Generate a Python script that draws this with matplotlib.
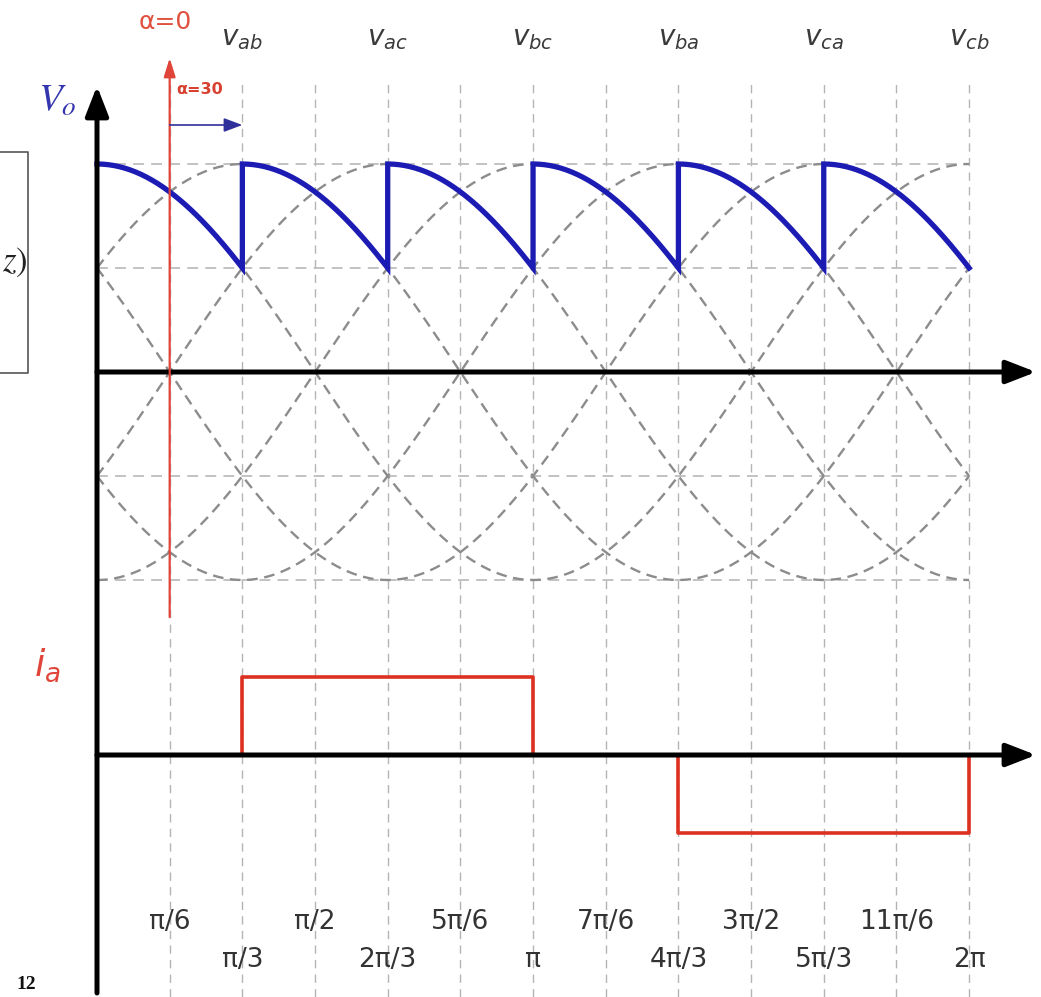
import numpy as np
import matplotlib
matplotlib.use("Agg")
import matplotlib.pyplot as plt

# ---- data ----
W, H = 1041, 997
# line voltages: name and angle of their peak (rad)
line_names = ["v_{ab}", "v_{ac}", "v_{bc}", "v_{ba}", "v_{ca}", "v_{cb}"]
line_peaks = [np.pi / 3, 2 * np.pi / 3, np.pi, 4 * np.pi / 3, 5 * np.pi / 3, 2 * np.pi]
# all six dashed sinusoids (peaks every pi/3, one at 0 too)
curve_peaks = [0, np.pi / 3, 2 * np.pi / 3, np.pi, 4 * np.pi / 3, 5 * np.pi / 3]
vpeak = 1.0
grid_levels = [1.0, 0.5, -0.5, -1.0]
# output voltage: each segment follows one line voltage from its peak
vo_start = [0, np.pi / 3, 2 * np.pi / 3, np.pi, 4 * np.pi / 3, 5 * np.pi / 3]
vo_seg_len = np.pi / 3
# phase current a (square blocks)
ia_angles = [np.pi / 3, np.pi / 3, np.pi, np.pi]
ia_pos = [0, 1, 1, 0]
ia_angles_neg = [4 * np.pi / 3, 4 * np.pi / 3, 2 * np.pi, 2 * np.pi]
ia_neg = [0, -1, -1, 0]
alpha = np.pi / 6
tick_pos = [k * np.pi / 6 for k in range(1, 13)]
tick_labels = ["π/6", "π/3", "π/2", "2π/3", "5π/6", "π",
               "7π/6", "4π/3", "3π/2", "5π/3", "11π/6", "2π"]

# pixel geometry of the drawing
X0, XS = 97, 138.8          # px of angle 0, px per rad
VY0, VS = 372, 208          # Vo zero line, px per unit
IY0, IS = 755, 78           # i_a zero line, px per unit


def fp(px, py):
    return px / W, 1 - py / H


fig = plt.figure(figsize=(W / 100, H / 100), dpi=100)
fig.patch.set_facecolor("white")
xlim = (-X0 / XS, (W - X0) / XS)

ax = fig.add_axes([0, 0, 1, 1])
ax.set_xlim(*xlim)
ax.set_ylim(-(H - VY0) / VS, VY0 / VS)
ax.axis("off")

ax2 = fig.add_axes([0, 0, 1, 1])
ax2.set_xlim(*xlim)
ax2.set_ylim(-(H - IY0) / IS, IY0 / IS)
ax2.axis("off")
ax2.patch.set_alpha(0)

# vertical grid
for t in tick_pos:
    ax.plot([t, t], [-(H - VY0) / VS, (VY0 - 83) / VS], color="#b4b4b4",
            lw=1.0, dashes=(6, 4.5), zorder=1)
# horizontal grid
for g in grid_levels:
    ax.plot([0, 2 * np.pi], [g, g], color="#bdbdbd", lw=1.3, dashes=(6, 4), zorder=1)

# dashed line voltages
th = np.linspace(0, 2 * np.pi, 600)
for p in curve_peaks:
    ax.plot(th, vpeak * np.cos(th - p), color="#8c8c8c", lw=1.7,
            dashes=(4.5, 2.8), zorder=2)

# output voltage
xs, ys = [], []
for s in vo_start:
    seg = np.linspace(s, s + vo_seg_len, 80)
    xs.extend(seg)
    ys.extend(vpeak * np.cos(seg - s))
ax.plot(xs, ys, color="#1c1cb4", lw=3.8, solid_joinstyle="miter", zorder=4)

# i_a
ax2.plot(ia_angles, ia_pos, color="#dd3020", lw=2.6, zorder=3)
ax2.plot(ia_angles_neg, ia_neg, color="#dd3020", lw=2.6, zorder=3)

# axes with arrows
arr = dict(arrowstyle="-|>,head_length=0.9,head_width=0.35", color="black",
           lw=3.6, shrinkA=0, shrinkB=0, mutation_scale=20)
ax.annotate("", xy=((1036 - X0) / XS, 0), xytext=(0, 0), arrowprops=arr, zorder=5)
ax2.annotate("", xy=((1036 - X0) / XS, 0), xytext=(0, 0), arrowprops=arr, zorder=5)
ax.annotate("", xy=(0, (VY0 - 86) / VS), xytext=(0, -(993 - VY0) / VS),
            arrowprops=arr, zorder=5)

# alpha = 0 marker
ax.annotate("", xy=(alpha, (VY0 - 58) / VS), xytext=(alpha, -(617 - VY0) / VS),
            arrowprops=dict(arrowstyle="-|>,head_length=0.8,head_width=0.25",
                            color="#e0453a", lw=1.6, shrinkA=0, shrinkB=0,
                            mutation_scale=14), zorder=6)
ax.annotate("", xy=(alpha + np.pi / 6, (VY0 - 125) / VS),
            xytext=(alpha, (VY0 - 125) / VS),
            arrowprops=dict(arrowstyle="-|>,head_length=0.8,head_width=0.3",
                            color="#30309a", lw=1.2, shrinkA=0, shrinkB=0,
                            mutation_scale=14), zorder=6)
fig.text(*fp(165, 22), "α=0", color="#e0503f", fontsize=18, ha="center", va="center")
fig.text(*fp(200, 89), "α=30", color="#d8402f", fontsize=11.5, fontweight="bold",
         ha="center", va="center")

# labels of line voltages
for name, p in zip(line_names, line_peaks):
    fig.text(*fp(X0 + p * XS, 38), "$" + name + "$", color="#3a3a3a", fontsize=20,
             ha="center", va="center", math_fontfamily="dejavusans")

fig.text(*fp(57, 100), "$V_o$", color="#3535b0", fontsize=28, ha="center",
         va="center", math_fontfamily="stix")
fig.text(*fp(47, 665), "$i_a$", color="#e0453a", fontsize=27, ha="center",
         va="center", math_fontfamily="dejavusans")

# tick labels (two staggered rows)
for k, (t, lab) in enumerate(zip(tick_pos, tick_labels)):
    py = 922 if k % 2 == 0 else 960
    fig.text(*fp(X0 + t * XS, py), lab, color="#333333", fontsize=19,
             ha="center", va="center")

# cut-off box on the left
ax.plot([-1.0, (28 - X0) / XS, (28 - X0) / XS, -1.0],
        [(VY0 - 152) / VS, (VY0 - 152) / VS, (VY0 - 373) / VS, (VY0 - 373) / VS],
        color="#555555", lw=1.2, zorder=3)
fig.text(*fp(2, 262), "$z)$", color="#222222", fontsize=25, ha="left",
         va="center", math_fontfamily="stix")
fig.text(*fp(26, 984), "12", color="#111111", fontsize=14, fontweight="bold",
         family="Liberation Serif", ha="center", va="center")

fig.savefig("out.png", dpi=100, facecolor="white")
